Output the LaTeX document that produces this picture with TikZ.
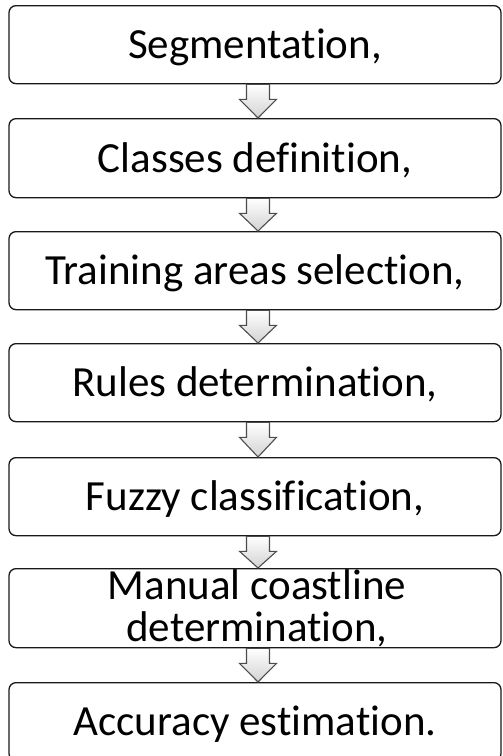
\documentclass[tikz,border=0pt]{standalone}
\usepackage{fontspec}
\setmainfont[Ligatures={NoCommon,NoContextual},RawFeature={-liga;-clig}]{Carlito}
\usetikzlibrary{calc}
\begin{document}
\begin{tikzpicture}[x=1pt,y=-1pt,
  stepbox/.style={draw=black!90,line width=1.3pt,rounded corners=7pt,
    minimum width=492pt,inner sep=0pt,text height=53pt,text depth=25pt,
    minimum height=78pt,font=\fontsize{43}{37}\selectfont},
  boxtext/.style={inner sep=0pt,anchor=base,font=\fontsize{43}{37}\selectfont},
  arr/.style={draw=black!70,line width=1.1pt,line join=miter,
    top color=white,bottom color=gray!35}]
\useasboundingbox (0,0) rectangle (503,756);
\node[stepbox,anchor=north] (b1) at (255,5) {Segmentation,};
\node[stepbox,anchor=north,text height=54pt] (b2) at (255,118) {Classes definition,};
\node[stepbox,anchor=north,text height=52pt,text depth=24pt] (b3) at (255,231) {Training areas selection,};
\node[stepbox,anchor=north,text height=52pt,text depth=25pt] (b4) at (255,343) {Rules determination,};
\node[stepbox,anchor=north,text height=52pt,text depth=24pt] (b5) at (255,457) {Fuzzy classification,};
\node[stepbox,anchor=north,minimum height=79pt,text height=0pt,text depth=0pt] (b6) at (255,568) {};
\node[boxtext] (t6a) at (257,599) {Manual coastline};
\node[boxtext] (t6b) at (257,641) {determination,};
\node[stepbox,anchor=north,text height=53pt,text depth=25pt] (b7) at (255,682) {Accuracy estimation.};
\foreach \a/\b in {b1/b2,b2/b3,b3/b4,b4/b5,b5/b6,b6/b7}{
  \draw[arr] let \p1=(\a.south), \p2=(\b.north) in
    (246.5,\y1) -- (269.5,\y1) -- (269.5,\y1-15) -- (276.5,\y1-15) -- (258,\y2)
    -- (239.5,\y1-15) -- (246.5,\y1-15) -- cycle;
}
\end{tikzpicture}
\end{document}
